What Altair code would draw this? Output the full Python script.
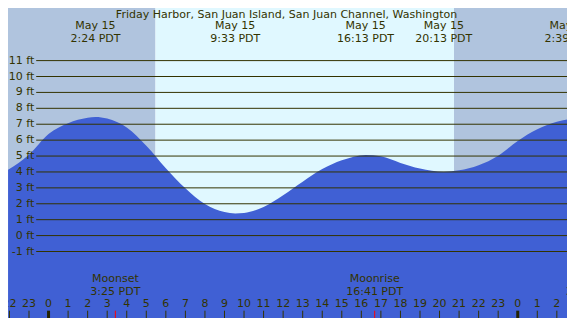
import altair as alt
import pandas as pd

# ---------------- data ----------------
title_text = "Friday Harbor, San Juan Island, San Juan Channel, Washington"

# tide height (ft) vs hours since May 15 00:00 PDT
tide_hours = [-2.07, -1.0, 0.0, 1.0, 2.0, 2.4, 3.0, 4.0, 5.0, 6.0, 7.0, 8.0, 9.0, 9.55,
              10.0, 11.0, 12.0, 13.0, 14.0, 15.0, 16.22, 17.0, 18.0, 19.0, 20.22, 21.0,
              22.0, 23.0, 24.0, 25.0, 26.0, 26.65]
tide_ft = [4.14, 5.08, 6.38, 7.06, 7.40, 7.46, 7.36, 6.80, 5.65, 4.24, 2.97, 1.98, 1.48, 1.39,
           1.42, 1.80, 2.54, 3.39, 4.18, 4.73, 5.07, 4.98, 4.57, 4.22, 4.02, 4.10,
           4.42, 5.02, 5.95, 6.68, 7.16, 7.32]

# high / low tide events
event_hours = [2.40, 9.55, 16.217, 20.217, 26.65]
event_dates = ["May 15", "May 15", "May 15", "May 15", "May 16"]
event_times = ["2:24 PDT", "9:33 PDT", "16:13 PDT", "20:13 PDT", "2:39 PDT"]

# sunrise / sunset (day band)
sunrise_h = 5.47
sunset_h = 20.74

# moon events
moon_hours = [3.417, 16.683, 27.73]
moon_names = ["Moonset", "Moonrise", "Moonset"]
moon_times = ["3:25 PDT", "16:41 PDT", "3:44 PDT"]

# y gridlines (ft)
grid_ft = [-1, 0, 1, 2, 3, 4, 5, 6, 7, 8, 9, 10, 11]

# hour ticks
hour_ticks = list(range(-2, 28))

# ---------------- layout / style ----------------
REF_W, REF_H = 575, 326
W, H = 559, 310
sx, sy = W / REF_W, H / REF_H
X0, X1 = -2.074, 26.52
Y0, Y1 = -5.18, 14.306

TXT = "#333300"
FONT = "DejaVu Sans"
FS = 11
NIGHT = "#B0C4DE"
DAY = "#E0F8FF"
WATER = "#4060D4"

xs = alt.Scale(domain=[X0, X1], nice=False, zero=False)
ys = alt.Scale(domain=[Y0, Y1], nice=False, zero=False)

# ---------------- tables ----------------
tide_df = pd.DataFrame({"h": tide_hours, "ft": tide_ft})
band_df = pd.DataFrame({
    "start": [X0, sunrise_h, sunset_h],
    "end": [sunrise_h, sunset_h, X1],
    "kind": ["night", "day", "night"],
})
grid_df = pd.DataFrame({"ft": grid_ft, "lab": [f"{g} ft" for g in grid_ft]})
ev_df = pd.DataFrame({"h": event_hours, "d": event_dates, "t": event_times})
moon_df = pd.DataFrame({"h": moon_hours, "n": moon_names, "t": moon_times})
hr_df = pd.DataFrame({"h": hour_ticks, "lab": [str(h % 24) for h in hour_ticks]})
title_df = pd.DataFrame({"t": [title_text]})

def txt(**kw):
    base = dict(font=FONT, fontSize=FS, color=TXT, clip=True)
    base.update(kw)
    return base

bands = alt.Chart(band_df).mark_rect(clip=True).encode(
    x=alt.X("start:Q", scale=xs, axis=None),
    x2="end:Q",
    y=alt.value(0),
    y2=alt.value(H),
    color=alt.Color("kind:N", scale=alt.Scale(domain=["night", "day"], range=[NIGHT, DAY]), legend=None),
)

water = alt.Chart(tide_df).mark_area(clip=True, interpolate="monotone", color=WATER).encode(
    x=alt.X("h:Q", scale=xs, axis=None),
    y=alt.Y("ft:Q", scale=ys, axis=None),
    y2=alt.datum(Y0),
)

grid = alt.Chart(grid_df).mark_rule(color=TXT, strokeWidth=1).encode(
    y=alt.Y("ft:Q", scale=ys, axis=None),
    x=alt.value(29 * sx),
    x2=alt.value(W),
)

grid_lab = alt.Chart(grid_df).mark_text(**txt(align="right", baseline="middle")).encode(
    y=alt.Y("ft:Q", scale=ys, axis=None),
    x=alt.value(27 * sx),
    text="lab:N",
)

title = alt.Chart(title_df).mark_text(**txt(align="center", baseline="middle")).encode(
    x=alt.value(286.5 * sx),
    y=alt.value(7.3 * sy),
    text="t:N",
)

ev_d = alt.Chart(ev_df).mark_text(**txt(align="center", baseline="middle")).encode(
    x=alt.X("h:Q", scale=xs, axis=None),
    y=alt.value(19.3 * sy),
    text="d:N",
)
ev_t = alt.Chart(ev_df).mark_text(**txt(align="center", baseline="middle")).encode(
    x=alt.X("h:Q", scale=xs, axis=None),
    y=alt.value(32.3 * sy),
    text="t:N",
)

moon_n = alt.Chart(moon_df).mark_text(**txt(align="center", baseline="middle")).encode(
    x=alt.X("h:Q", scale=xs, axis=None),
    y=alt.value(286.7 * sy - 1.5),
    text="n:N",
)
moon_t = alt.Chart(moon_df).mark_text(**txt(align="center", baseline="middle")).encode(
    x=alt.X("h:Q", scale=xs, axis=None),
    y=alt.value(300.0 * sy - 1.5),
    text="t:N",
)

hr_lab = alt.Chart(hr_df).mark_text(**txt(align="center", baseline="middle")).encode(
    x=alt.X("h:Q", scale=xs, axis=None),
    y=alt.value(311.5 * sy),
    text="lab:N",
)

hr_tick = alt.Chart(hr_df).transform_filter("datum.h % 24 != 0").mark_rule(
    color=TXT, strokeWidth=1, clip=True
).encode(
    x=alt.X("h:Q", scale=xs, axis=None),
    y=alt.value(318.3 * sy),
    y2=alt.value(H),
)
mid_tick = alt.Chart(hr_df).transform_filter("datum.h % 24 == 0").mark_rule(
    color="#222200", strokeWidth=3, clip=True
).encode(
    x=alt.X("h:Q", scale=xs, axis=None),
    y=alt.value(318.3 * sy),
    y2=alt.value(H),
)
moon_tick = alt.Chart(moon_df).mark_rule(color="#FF0000", strokeWidth=1, clip=True).encode(
    x=alt.X("h:Q", scale=xs, axis=None),
    y=alt.value(318.3 * sy),
    y2=alt.value(H),
)

chart = alt.layer(
    bands, water, grid, grid_lab, title, ev_d, ev_t, moon_n, moon_t,
    hr_lab, hr_tick, mid_tick, moon_tick,
).properties(
    width=W, height=H,
    autosize=alt.AutoSizeParams(type="none"),
    padding=0,
).configure_view(stroke=None)

chart.save("out.html", embed_options={"renderer": "svg", "actions": False})
